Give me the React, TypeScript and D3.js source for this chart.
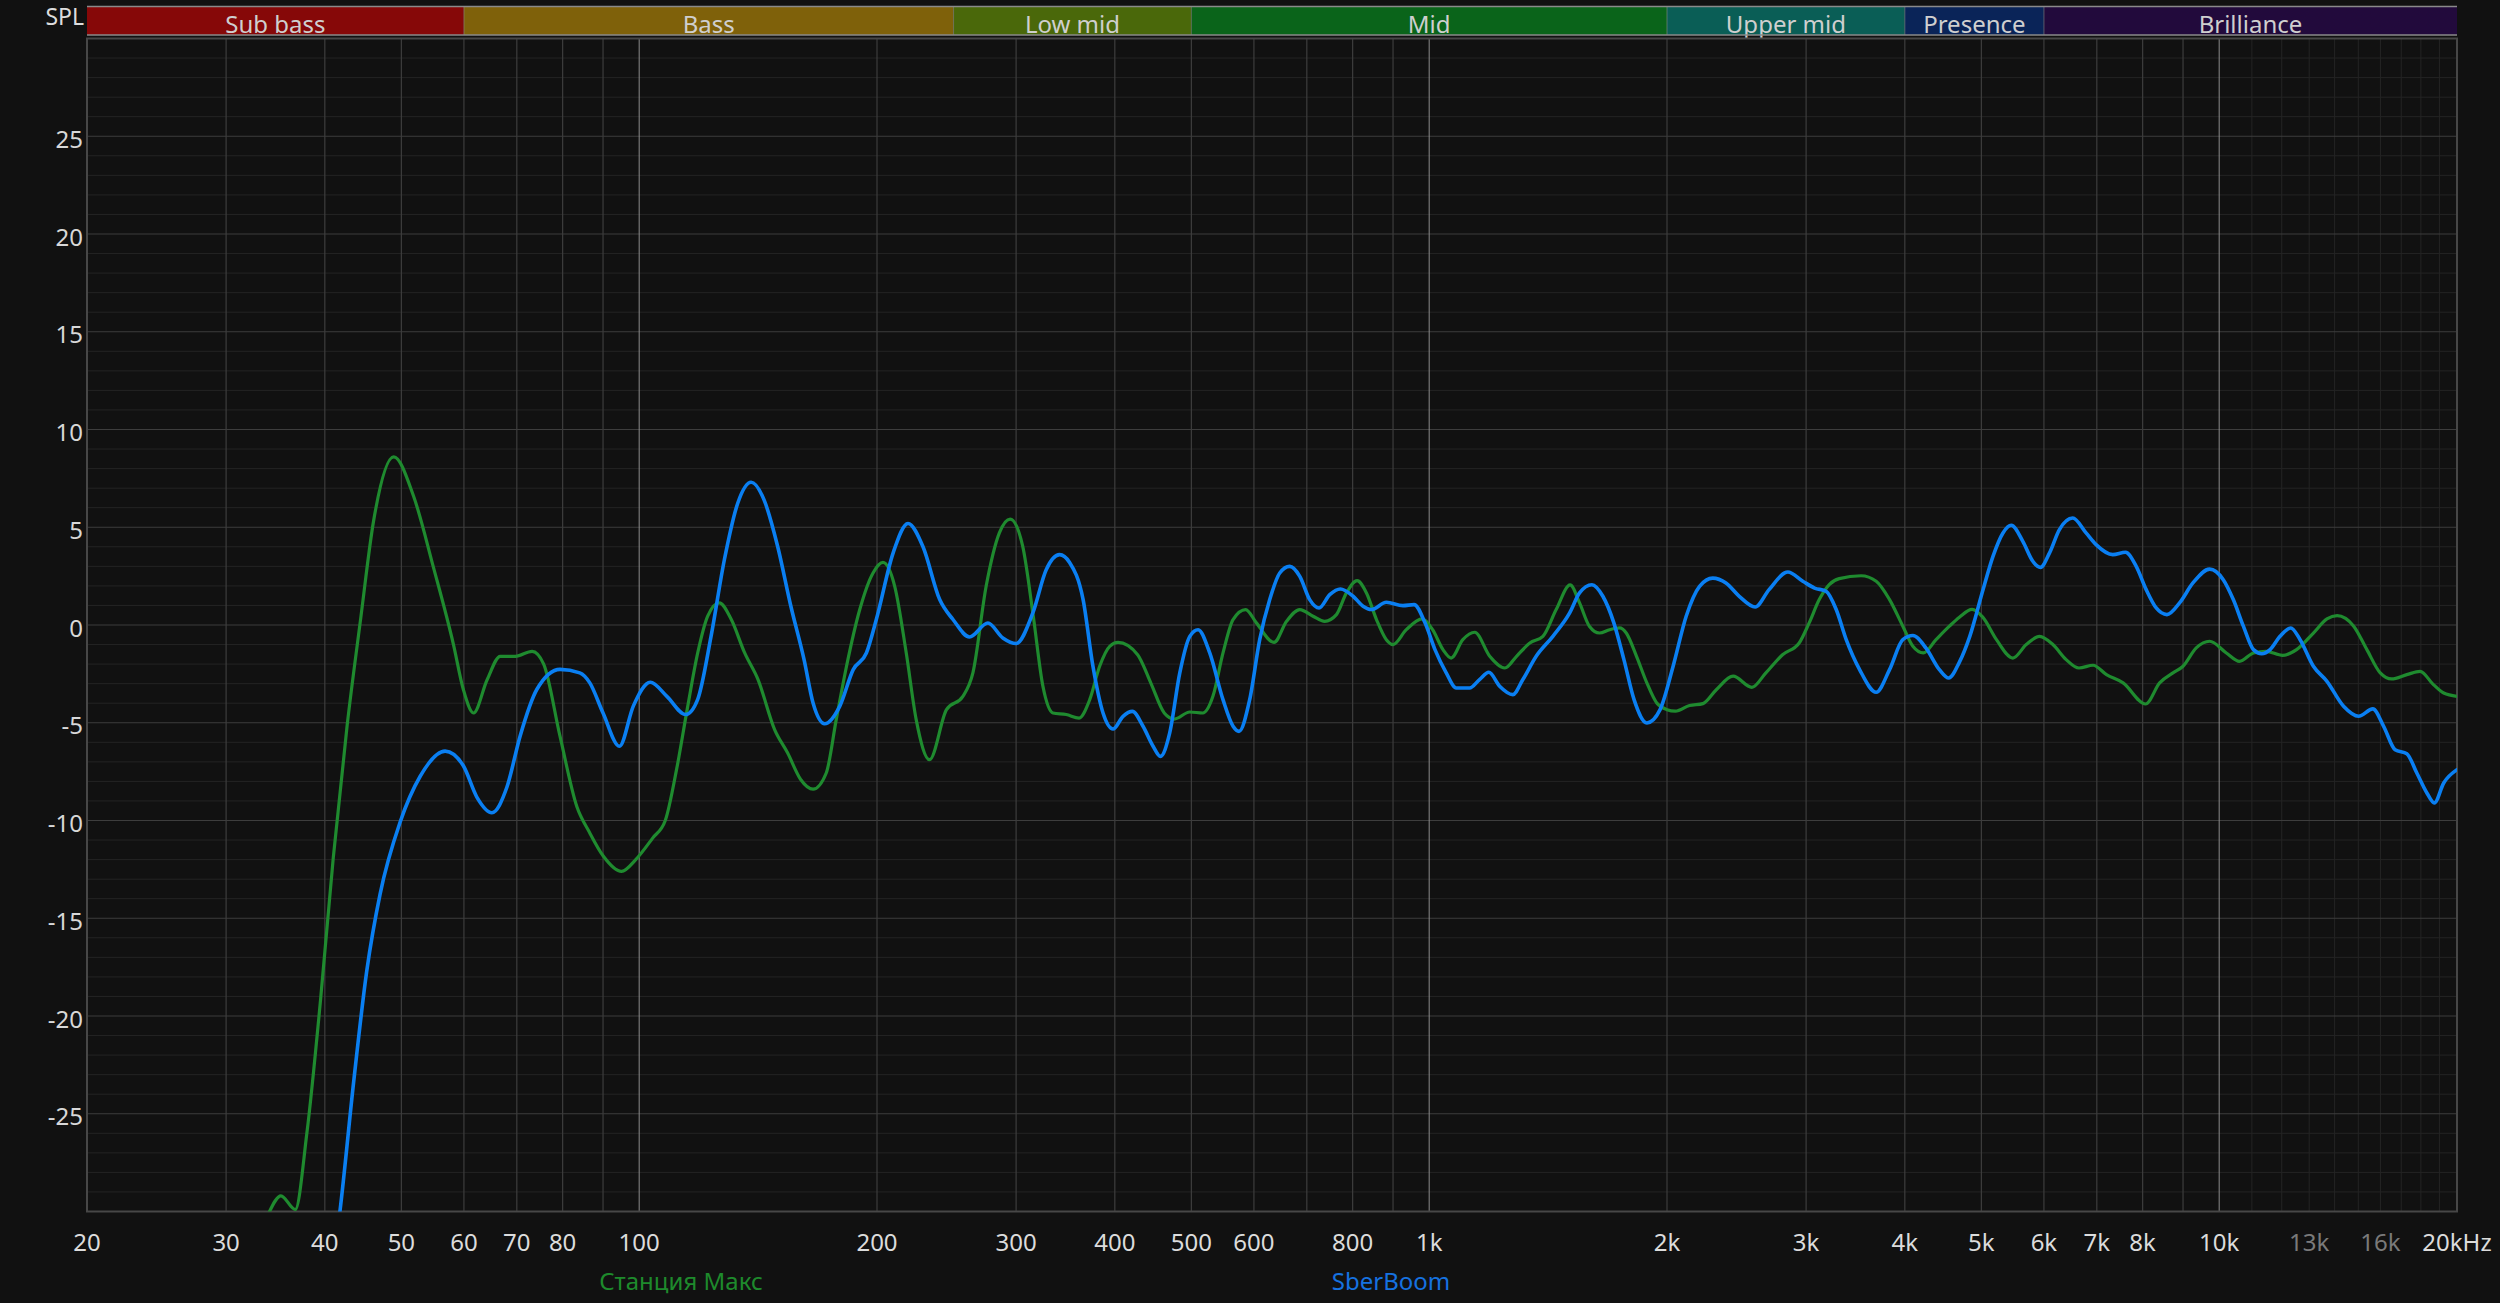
import React from "react";
import * as d3 from "d3";

// ---- data ----
const bandNames = ["Sub bass", "Bass", "Low mid", "Mid", "Upper mid", "Presence", "Brilliance"];
const bandEdges = [20, 60, 250, 500, 2000, 4000, 6000, 20000];
const bandColors = ["#860808", "#7f610a", "#4a680a", "#0a641a", "#0a5e56", "#0a2458", "#220a3c"];

const dbTicks = [-25, -20, -15, -10, -5, 0, 5, 10, 15, 20, 25];
const freqTicks = [20, 30, 40, 50, 60, 70, 80, 100, 200, 300, 400, 500, 600, 800, 1000, 2000, 3000, 4000, 5000, 6000, 7000, 8000, 10000, 13000, 16000, 20000];
const freqTickLabels = ["20", "30", "40", "50", "60", "70", "80", "100", "200", "300", "400", "500", "600", "800", "1k", "2k", "3k", "4k", "5k", "6k", "7k", "8k", "10k", "13k", "16k", "20kHz"];
const dimTickLabels = ["13k", "16k"];

const seriesNames = ["Станция Макс", "SberBoom"];
const seriesColors = ["#1f8b2f", "#0a7ff2"];
const legendColors = ["#1e8a2c", "#1672e0"];

// [frequency Hz, SPL dB]
const stationMaxData: [number, number][] = [
  [33, -31.5], [34.05, -30], [35.2, -29.2], [36.7, -29.9], [37.96, -26.0], [39.5, -19.2], [41.0, -11.9],
  [42.7, -5.1], [44.4, 0.3], [46.1, 5.3], [48.9, 8.6], [51.8, 6.6], [54.9, 2.95], [58.2, -1.0], [59.9, -3.3],
  [61.7, -4.5], [64.2, -2.8], [66.7, -1.6], [69.7, -1.6], [73.2, -1.35], [75.7, -2.0], [79.4, -5.7],
  [83.4, -9.3], [86.5, -10.6], [90, -11.8], [95, -12.6], [99, -12.0], [104, -10.9], [107.9, -10.0],
  [111.5, -7.4], [115, -4.33], [118.6, -1.43], [122.1, 0.45], [126.3, 1.13], [130.8, 0.28], [136, -1.43],
  [141.4, -2.79], [148.4, -5.35], [154.1, -6.54], [160.1, -7.9], [166, -8.4], [172.5, -7.57], [177.6, -4.84],
  [183, -2.11], [190.2, 0.79], [197.7, 2.66], [203.5, 3.2], [210.6, 1.98], [217.8, -1.43], [224.2, -4.84],
  [233.1, -6.89], [244.9, -4.33], [256.9, -3.65], [264.5, -2.45], [274.9, 1.98], [285.7, 4.71], [294.9, 5.42],
  [305.8, 4.03], [315, 0.62], [324.4, -3.14], [334, -4.5], [347.2, -4.58], [360.4, -4.76], [371.8, -3.82],
  [382.7, -2.11], [394.1, -1.09], [403.8, -0.89], [427.5, -1.52], [444.3, -2.97], [462, -4.5], [475.7, -4.81],
  [497.7, -4.45], [517.1, -4.5], [532.4, -3.65], [548.3, -1.43], [564.6, 0.28], [585.7, 0.79], [604.3, 0.11],
  [636.2, -0.89], [659.9, 0.19], [685.8, 0.79], [712.8, 0.45], [737.5, 0.19], [763.1, 0.53], [785.7, 1.64],
  [810.5, 2.27], [832.9, 1.64], [857.6, 0.28], [882.6, -0.75], [900, -1.0], [935.5, -0.24], [980, 0.31],
  [1010, -0.24], [1041, -1.26], [1066, -1.69], [1103, -0.75], [1142, -0.37], [1193, -1.6], [1247, -2.2],
  [1290, -1.6], [1341, -0.92], [1393, -0.58], [1448, 0.79], [1508, 2.05], [1550, 1.13], [1595, -0.06],
  [1643, -0.41], [1692, -0.24], [1742, -0.15], [1776, -0.41], [1830, -1.6], [1886, -2.96], [1941, -3.99],
  [2000, -4.33], [2049, -4.41], [2136, -4.12], [2221, -4.02], [2309, -3.31], [2425, -2.62], [2561, -3.19],
  [2668, -2.45], [2801, -1.52], [2940, -0.92], [3027, 0.11], [3117, 1.3], [3209, 2.07], [3304, 2.37],
  [3521, 2.52], [3680, 2.24], [3826, 1.3], [3977, -0.06], [4095, -1.09], [4222, -1.43], [4381, -0.75],
  [4555, -0.06], [4690, 0.4], [4867, 0.8], [5020, 0.4], [5225, -0.75], [5481, -1.69], [5699, -1.0],
  [5924, -0.58], [6159, -1.0], [6402, -1.77], [6645, -2.2], [6924, -2.06], [7200, -2.54], [7558, -2.96],
  [8070, -4.04], [8406, -2.96], [8740, -2.45], [9000, -2.11], [9353, -1.17], [9726, -0.83], [10210, -1.43],
  [10610, -1.86], [11050, -1.43], [11460, -1.35], [12030, -1.55], [12530, -1.26], [13160, -0.41],
  [13690, 0.31], [14100, 0.48], [14800, -0.06], [15380, -1.26], [15990, -2.45], [16530, -2.76],
  [17280, -2.54], [17960, -2.37], [18670, -3.05], [19240, -3.48], [20000, -3.65],
];

const sberBoomData: [number, number][] = [
  [40.5, -34], [41.8, -30], [43.5, -23.4], [45.2, -17.7], [47.0, -13.75], [49.8, -10.1], [52.8, -7.75],
  [56.8, -6.45], [59.9, -7.2], [62.3, -8.8], [65.1, -9.6], [68.0, -8.3], [70.7, -5.66], [74.2, -3.3],
  [79.4, -2.27], [84.1, -2.45], [86.6, -2.96], [90.0, -4.5], [94.4, -6.2], [98.3, -4.15], [103.3, -2.93],
  [108.4, -3.65], [114.5, -4.58], [118.6, -3.8], [123.3, -0.58], [128.2, 3.35], [133.3, 6.24], [138.6, 7.3],
  [143.9, 6.4], [149.7, 4.03], [155.6, 0.96], [161.7, -1.77], [166.0, -3.99], [171.7, -5.05], [179.4, -4.16],
  [186.6, -2.28], [193.9, -1.43], [199.6, 0.28], [209.6, 3.68], [218.9, 5.19], [228.7, 4.0], [240.1, 1.3],
  [249.6, 0.28], [261.9, -0.61], [276.3, 0.1], [288.6, -0.66], [300, -0.95], [315, 0.62], [327.5, 2.83],
  [340.5, 3.6], [350.6, 3.2], [364.7, 1.3], [375.3, -2.11], [386.5, -4.5], [397.9, -5.32], [409.7, -4.67],
  [421, -4.42], [434.3, -5.18], [447.2, -6.2], [456.8, -6.72], [469.4, -5.52], [483.4, -2.45], [497.7, -0.58],
  [509.9, -0.24], [527.5, -1.43], [548.3, -3.82], [564.6, -5.18], [574.5, -5.44], [592.6, -3.82], [610.2, -0.75],
  [628.3, 1.3], [646.9, 2.66], [666, 3.0], [685.8, 2.49], [705.9, 1.3], [725.4, 0.87], [748.4, 1.55],
  [772, 1.84], [801.1, 1.47], [824.7, 0.96], [845, 0.79], [882.6, 1.16], [926.4, 0.99], [956.9, 1.04],
  [987.9, 0.11], [1017, -1.26], [1051, -2.45], [1082, -3.22], [1125, -3.22], [1158, -2.79], [1190, -2.42],
  [1228, -3.13], [1276, -3.56], [1314, -2.79], [1366, -1.6], [1434, -0.58], [1506, 0.62], [1550, 1.64],
  [1607, 2.06], [1659, 1.47], [1713, 0.11], [1764, -1.77], [1817, -3.82], [1886, -5.01], [1960, -4.33],
  [2036, -2.11], [2115, 0.45], [2199, 1.98], [2285, 2.4], [2375, 2.15], [2469, 1.47], [2586, 0.92],
  [2693, 1.81], [2844, 2.71], [2971, 2.24], [3075, 1.89], [3181, 1.72], [3275, 0.79], [3372, -0.75],
  [3506, -2.28], [3680, -3.44], [3826, -2.28], [3977, -0.75], [4095, -0.54], [4255, -1.18], [4424, -2.28],
  [4546, -2.71], [4690, -1.9], [4834, -0.58], [5025, 1.81], [5172, 3.51], [5325, 4.71], [5455, 5.1],
  [5642, 4.28], [5809, 3.26], [5940, 2.95], [6097, 3.68], [6277, 4.88], [6525, 5.47], [6784, 4.71],
  [6985, 4.11], [7333, 3.6], [7610, 3.72], [7852, 3.0], [8084, 1.81], [8324, 0.87], [8587, 0.53],
  [8910, 1.13], [9263, 2.15], [9726, 2.86], [10120, 2.32], [10420, 1.3], [10730, -0.06], [11050, -1.26],
  [11320, -1.47], [11600, -1.26], [11940, -0.58], [12320, -0.15], [12660, -0.75], [13160, -2.11],
  [13690, -2.88], [14370, -4.16], [15010, -4.67], [15650, -4.29], [16150, -5.18], [16700, -6.38],
  [17280, -6.58], [17790, -7.57], [18320, -8.59], [18720, -9.1], [19240, -8.08], [20000, -7.4],
];

// ---- layout ----
const W = 2500;
const H = 1303;
const L = 87;
const R = 2457;
const T = 38.5;
const B = 1211.5;
const FONT = '"Segoe UI", "Noto Sans", "Open Sans", sans-serif';
const LEGEND_X = [681, 1391];

export default function App() {
  const x = d3.scaleLog().domain([20, 20000]).range([L, R]);
  const y = d3.scaleLinear().domain([-30, 30]).range([B, T]);

  const minorDb = d3.range(-29, 30).filter((v) => v % 5 !== 0);
  const majorDb = d3.range(-25, 30, 5);

  const multGrid: number[] = [];
  [10, 100, 1000].forEach((dec) => {
    for (let m = 2; m <= 9; m++) {
      const f = m * dec;
      if (f > 20 && f < 20000) multGrid.push(f);
    }
  });
  const decadeGrid = [100, 1000, 10000];
  const fineGrid = d3.range(11000, 20000, 1000);

  const line = d3
    .line<[number, number]>()
    .x((d) => x(d[0]))
    .y((d) => y(d[1]))
    .curve(d3.curveMonotoneX);

  const series = [stationMaxData, sberBoomData];

  return (
    <svg
      width={W}
      height={H}
      style={{ position: "absolute", left: 0, top: 0, display: "block" }}
      fontFamily={FONT}
    >
      <rect x={0} y={0} width={W} height={H} fill="#111111" />
      <defs>
        <clipPath id="plotClip">
          <rect x={L} y={T} width={R - L} height={B - T} />
        </clipPath>
      </defs>

      {/* band bar */}
      {bandNames.map((name, i) => {
        const x0 = x(bandEdges[i]);
        const x1 = x(bandEdges[i + 1]);
        const cx = x(Math.sqrt(bandEdges[i] * bandEdges[i + 1]));
        return (
          <g key={name}>
            <rect x={x0} y={6.5} width={x1 - x0} height={28.5} fill={bandColors[i]} />
            <text x={cx} y={33} textAnchor="middle" fontSize={24} fill="#cfcfcf">
              {name}
            </text>
          </g>
        );
      })}
      {bandEdges.slice(1, -1).map((f) => (
        <line key={"sep" + f} x1={x(f)} x2={x(f)} y1={6.5} y2={35} stroke="#8a8a8a" strokeOpacity={0.6} strokeWidth={1} />
      ))}
      <line x1={L} x2={R} y1={6.5} y2={6.5} stroke="#8a8a8a" strokeWidth={1.5} />
      <line x1={L} x2={R} y1={35} y2={35} stroke="#8a8a8a" strokeWidth={1.5} />
      <text x={84} y={25} textAnchor="end" fontSize={23} fill="#dddddd">SPL</text>

      {/* grid */}
      {minorDb.map((v) => (
        <line key={"mh" + v} x1={L} x2={R} y1={y(v)} y2={y(v)} stroke="#242424" strokeWidth={1} />
      ))}
      {fineGrid.map((f) => (
        <line key={"fv" + f} x1={x(f)} x2={x(f)} y1={T} y2={B} stroke="#242424" strokeWidth={1} />
      ))}
      {majorDb.map((v) => (
        <line key={"Mh" + v} x1={L} x2={R} y1={y(v)} y2={y(v)} stroke="#3d3d3d" strokeWidth={1.2} />
      ))}
      {multGrid.map((f) => (
        <line key={"mv" + f} x1={x(f)} x2={x(f)} y1={T} y2={B} stroke="#3d3d3d" strokeWidth={1.2} />
      ))}
      {decadeGrid.map((f) => (
        <line key={"dv" + f} x1={x(f)} x2={x(f)} y1={T} y2={B} stroke="#8c8c8c" strokeWidth={1} />
      ))}

      {/* frame */}
      <rect x={L} y={T} width={R - L} height={B - T} fill="none" stroke="#474747" strokeWidth={2} />

      {/* curves */}
      <g clipPath="url(#plotClip)">
        {series.map((data, i) => (
          <path
            key={seriesNames[i]}
            d={line(data) || ""}
            fill="none"
            stroke={seriesColors[i]}
            strokeWidth={i === 0 ? 3.2 : 3.6}
            strokeLinejoin="round"
            strokeLinecap="round"
          />
        ))}
      </g>

      {/* y labels */}
      {dbTicks.map((v) => (
        <text key={"yt" + v} x={83} y={y(v) + 11.5} textAnchor="end" fontSize={24} fill="#d8d8d8">
          {v}
        </text>
      ))}

      {/* x labels */}
      {freqTicks.map((f, i) => (
        <text
          key={"xt" + f}
          x={x(f)}
          y={1250.5}
          textAnchor="middle"
          fontSize={24}
          fill={dimTickLabels.includes(freqTickLabels[i]) ? "#7a7a7a" : "#dcdcdc"}
        >
          {freqTickLabels[i]}
        </text>
      ))}

      {/* legend */}
      {seriesNames.map((n, i) => (
        <text key={"lg" + n} x={LEGEND_X[i]} y={1290} textAnchor="middle" fontSize={24} fill={legendColors[i]}>
          {n}
        </text>
      ))}
    </svg>
  );
}
